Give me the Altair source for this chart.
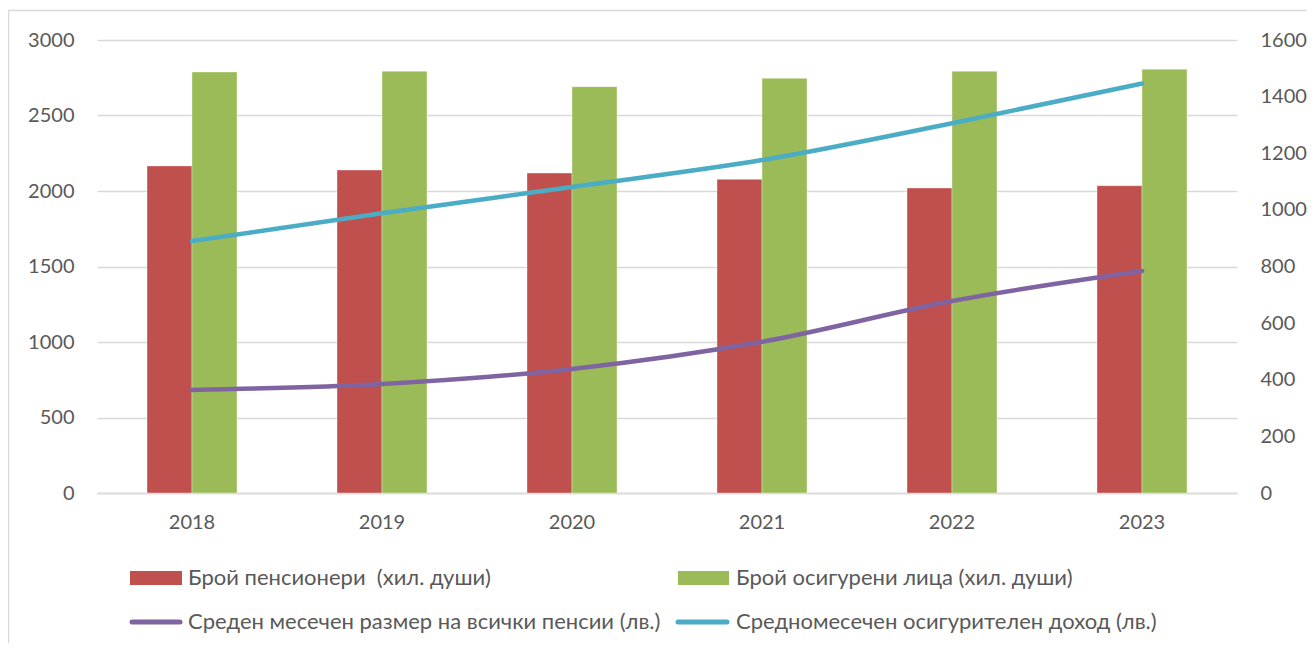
import altair as alt
import pandas as pd

years = ["2018", "2019", "2020", "2021", "2022", "2023"]
bar_names = ["Брой пенсионери  (хил. души)", "Брой осигурени лица (хил. души)"]
pensioners = [2166, 2139, 2119, 2077, 2020, 2035]
insured = [2788, 2793, 2691, 2746, 2793, 2806]
line_names = ["Среден месечен размер на всички пенсии (лв.)", "Средномесечен осигурителен доход (лв.)"]
avg_pension = [364, 385, 438, 534, 678, 784]
avg_income = [890, 988, 1081, 1176, 1306, 1446]
left_ticks = [0, 500, 1000, 1500, 2000, 2500, 3000]
right_ticks = [0, 200, 400, 600, 800, 1000, 1200, 1400, 1600]

colors = {bar_names[0]: "#C0504D", bar_names[1]: "#9BBB59",
          line_names[0]: "#8064A2", line_names[1]: "#4BACC6"}

bars_df = pd.DataFrame({
    "year": years * 2,
    "series": [bar_names[0]] * 6 + [bar_names[1]] * 6,
    "value": pensioners + insured,
})
lines_df = pd.DataFrame({
    "year": years * 2,
    "series": [line_names[0]] * 6 + [line_names[1]] * 6,
    "value": avg_pension + avg_income,
})

FONT = "Lato"
FS = 20
LFS = 22
TXT = "#595959"
GRID = "#d9d9d9"

PI = 100 / 190
xscale = alt.Scale(domain=years, paddingInner=PI, paddingOuter=PI / 2)
cscale = alt.Scale(domain=list(colors.keys()), range=list(colors.values()))

one = pd.DataFrame({"a": [0]})
border = alt.Chart(one).mark_rect(fillOpacity=0, stroke=GRID, strokeWidth=1.5).encode(
    x=alt.value(-88.5), x2=alt.value(1300), y=alt.value(-29.5), y2=alt.value(700)
)

bars = alt.Chart(bars_df).mark_bar(stroke="white", strokeWidth=0.6, strokeOpacity=0.6).encode(
    x=alt.X("year:N", scale=xscale, sort=years,
            axis=alt.Axis(title=None, labelAngle=0, ticks=False, domainColor=GRID,
                          domainWidth=1.5, labelPadding=19)),
    xOffset=alt.XOffset("series:N", sort=bar_names,
                        scale=alt.Scale(domain=bar_names, paddingInner=0, paddingOuter=0)),
    y=alt.Y("value:Q", scale=alt.Scale(domain=[0, 3000], nice=False),
            axis=alt.Axis(title=None, values=left_ticks, format="d", orient="left", grid=True,
                          gridColor=GRID, gridWidth=1.5, domain=False, ticks=False,
                          labelPadding=23)),
    color=alt.Color("series:N", scale=cscale, legend=None),
)

lines = alt.Chart(lines_df).mark_line(strokeWidth=4.5, interpolate="monotone", strokeCap="round").encode(
    x=alt.X("year:N", scale=xscale, sort=years),
    y=alt.Y("value:Q", scale=alt.Scale(domain=[0, 1600], nice=False),
            axis=alt.Axis(title=None, values=right_ticks, format="d", orient="right", grid=False,
                          domain=False, ticks=False, labelPadding=23, labelAlign="left")),
    color=alt.Color("series:N", scale=cscale, legend=None),
    detail="series:N",
)

def sym_rect(name, x0, x1, y0, y1):
    return alt.Chart(one).mark_rect(color=colors[name]).encode(
        x=alt.value(x0), x2=alt.value(x1), y=alt.value(y0), y2=alt.value(y1))

def sym_line(name, x0, x1, y):
    return alt.Chart(one).mark_rule(color=colors[name], strokeWidth=5, strokeCap="round").encode(
        x=alt.value(x0), x2=alt.value(x1), y=alt.value(y))

def label(name, x, y):
    return alt.Chart(one).mark_text(align="left", baseline="middle", font=FONT,
                                    fontSize=LFS, color=TXT).encode(
        x=alt.value(x), y=alt.value(y), text=alt.value(name.replace("  ", " \u00a0")))

legend = [
    sym_rect(bar_names[0], 33, 85, 531, 545), label(bar_names[0], 91, 538),
    sym_rect(bar_names[1], 581, 632, 531, 545), label(bar_names[1], 639, 538),
    sym_line(line_names[0], 35, 83, 582), label(line_names[0], 91, 582),
    sym_line(line_names[1], 581, 630, 582), label(line_names[1], 639, 582),
]

chart = alt.layer(border, bars, lines, *legend).resolve_scale(y="independent").properties(
    width=1140, height=453,
    autosize=alt.AutoSizeParams(type="none"),
    padding={"left": 89, "top": 32, "right": 70, "bottom": 150},
).configure_view(stroke=None).configure_axis(
    labelFont=FONT, labelFontSize=FS, labelColor=TXT
)

chart.save("out.html", embed_options={"renderer": "svg", "actions": False})
